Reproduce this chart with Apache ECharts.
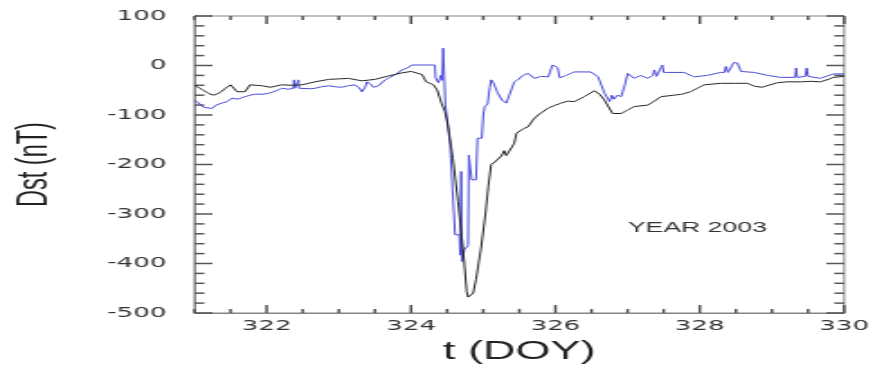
<!DOCTYPE html>
<html>
<head>
<meta charset="utf-8">
<script src="https://cdn.jsdelivr.net/npm/echarts@6/dist/echarts.min.js"></script>
<style>
  html, body { margin: 0; padding: 0; background: #fff; overflow: hidden; }
  /* the source figure is stretched sideways, so the chart is drawn narrow and widened */
  #chart { width: 486px; height: 370px; transform: scaleX(1.8004); transform-origin: 0 0; }
</style>
</head>
<body>
<div id="chart"></div>
<script>
// observed Dst (black)
const doyObs = [
  321.00, 321.10, 321.20, 321.27, 321.35, 321.43, 321.50, 321.59, 321.70, 321.77,
  321.85, 321.94, 322.05, 322.21, 322.35, 322.49, 322.67, 322.86, 323.00, 323.13,
  323.32, 323.50, 323.69, 323.87, 324.00, 324.15, 324.21, 324.31, 324.36, 324.42,
  324.47, 324.51, 324.58, 324.65, 324.72, 324.77, 324.79, 324.86, 324.90, 324.97,
  325.03, 325.07, 325.11, 325.16, 325.25, 325.29, 325.32, 325.36, 325.43, 325.46,
  325.55, 325.62, 325.70, 325.76, 325.90, 326.00, 326.08, 326.17, 326.26, 326.40,
  326.54, 326.61, 326.68, 326.79, 326.91, 327.00, 327.09, 327.28, 327.37, 327.46,
  327.64, 327.75, 327.87, 328.06, 328.29, 328.50, 328.66, 328.76, 328.86, 329.07,
  329.20, 329.39, 329.55, 329.67, 329.78, 329.85, 330.00
]
const dstObs = [
  -40, -48, -57, -60, -55, -46, -39, -53, -53, -39,
  -40, -41, -44, -39, -40, -39, -33, -28, -27, -26,
  -31, -28, -21, -15, -12, -18, -33, -39, -49, -76,
  -93, -120, -188, -275, -369, -457, -468, -460, -432, -369,
  -300, -245, -200, -195, -183, -172, -182, -178, -157, -137,
  -128, -124, -108, -100, -86, -80, -76, -72, -73, -63,
  -51, -58, -70, -97, -97, -90, -83, -80, -72, -63,
  -60, -58, -53, -39, -36, -36, -36, -42, -44, -35,
  -33, -33, -32, -33, -28, -24, -22
]

// model Dst (blue)
const doyModel = [
  321.00, 321.05, 321.12, 321.24, 321.30, 321.38, 321.45, 321.52, 321.60, 321.70,
  321.77, 321.84, 321.95, 322.03, 322.12, 322.21, 322.30, 322.37, 322.38, 322.39,
  322.43, 322.44, 322.45, 322.49, 322.60, 322.67, 322.76, 322.86, 322.95, 323.04,
  323.13, 323.22, 323.28, 323.32, 323.36, 323.39, 323.44, 323.48, 323.55, 323.64,
  323.71, 323.78, 323.87, 323.95, 324.01, 324.33, 324.34, 324.38, 324.41, 324.43,
  324.445, 324.46, 324.475, 324.54, 324.60, 324.61, 324.67, 324.68, 324.695, 324.705,
  324.74, 324.79, 324.80, 324.83, 324.84, 324.90, 324.92, 324.98, 325.00, 325.02,
  325.06, 325.09, 325.11, 325.14, 325.20, 325.26, 325.32, 325.36, 325.43, 325.48,
  325.55, 325.62, 325.71, 325.80, 325.90, 325.96, 326.03, 326.06, 326.08, 326.15,
  326.26, 326.49, 326.59, 326.68, 326.75, 326.78, 326.81, 326.86, 326.91, 326.96,
  327.00, 327.09, 327.18, 327.28, 327.35, 327.37, 327.40, 327.44, 327.48, 327.50,
  327.55, 327.78, 327.92, 328.10, 328.29, 328.34, 328.36, 328.39, 328.43, 328.47,
  328.52, 328.57, 328.75, 328.94, 329.12, 329.32, 329.335, 329.35, 329.46, 329.48,
  329.50, 329.67, 329.85, 330.00
]
const dstModel = [
  -70, -75, -84, -87, -80, -76, -73, -66, -68, -63,
  -60, -58, -58, -56, -52, -46, -48, -46, -29, -46,
  -46, -29, -46, -44, -47, -46, -43, -41, -43, -44,
  -41, -39, -45, -53, -45, -33, -38, -44, -41, -29,
  -24, -19, -9, -5, 1, 1, -25, -35, -20, -30,
  35, -20, -78, -160, -316, -342, -342, -383, -214, -396,
  -371, -364, -181, -181, -231, -231, -147, -147, -100, -83,
  -78, -45, -29, -35, -55, -70, -76, -60, -33, -29,
  -20, -16, -26, -22, -23, 1, -4, -25, -29, -20,
  -13, -13, -23, -56, -73, -60, -68, -60, -63, -40,
  -16, -26, -20, -26, -20, -9, -22, -20, 1, -14,
  -14, -14, -23, -20, -14, -14, -2, -14, -10, 6,
  5, -12, -14, -20, -24, -24, -5, -24, -22, -5,
  -22, -26, -17, -17
]

// axis ticks: labelled every 2 days / 100 nT, small ticks every 0.5 day / 20 nT
const xMajor = [322, 324, 326, 328, 330]
const xTicks = []
for (let v = 321; v <= 330; v += 0.5) xTicks.push(v)
const yTicks = []
for (let v = -500; v <= 100; v += 20) yTicks.push(v)

const frame = '#858585'
const tickColor = '#555'
const labelFont = { fontFamily: 'DejaVu Sans', fontSize: 14.5, color: '#333' }

function pairs(xs, ys) {
  return xs.map((x, i) => [x, ys[i]])
}

// ticks pointing into the frame on all four sides
function renderTicks(params, api) {
  const cs = params.coordSys
  const top = cs.y
  const bottom = cs.y + cs.height
  const left = cs.x
  const right = cs.x + cs.width
  const lines = []
  const add = (x1, y1, x2, y2) =>
    lines.push({
      type: 'line',
      shape: { x1, y1, x2, y2 },
      style: { stroke: tickColor, lineWidth: 1.5 },
    })
  xTicks.forEach((v) => {
    const x = api.coord([v, 0])[0]
    const len = xMajor.includes(v) ? 8 : 4
    add(x, bottom, x, bottom - len)
    add(x, top, x, top + len)
  })
  yTicks.forEach((v) => {
    const y = api.coord([321, v])[1]
    const len = v % 100 === 0 ? 10 : 5.5
    add(left, y, left + len, y)
    add(right, y, right - len, y)
  })
  return { type: 'group', children: lines }
}

const chart = echarts.init(document.getElementById('chart'))

chart.setOption({
  animation: false,
  title: {
    text: 'YEAR 2003',
    left: 348.7,
    top: 220.5,
    padding: 0,
    textStyle: { fontFamily: 'Liberation Sans', fontSize: 14.8, fontWeight: 'normal', color: '#333' },
  },
  grid: {
    left: 106.8,
    right: 17.1,
    top: 16,
    bottom: 57,
    show: true,
    borderColor: frame,
    borderWidth: 1,
    backgroundColor: 'transparent',
  },
  xAxis: {
    type: 'value',
    min: 321,
    max: 330,
    axisLine: { show: true, onZero: false, lineStyle: { color: frame, width: 1 } },
    axisTick: { show: false },
    axisLabel: Object.assign({ customValues: xMajor, margin: 6 }, labelFont),
    splitLine: { show: false },
    name: 't (DOY)',
    nameLocation: 'middle',
    nameGap: 27,
    nameTextStyle: { fontFamily: 'Liberation Sans', fontSize: 25, color: '#222' },
  },
  yAxis: {
    type: 'value',
    min: -500,
    max: 100,
    interval: 100,
    axisLine: { show: true, onZero: false, lineStyle: { color: frame, width: 1 } },
    axisTick: { show: false },
    axisLabel: Object.assign({ margin: 15.5 }, labelFont),
    splitLine: { show: false },
    name: 'Dst (nT)',
    nameLocation: 'middle',
    nameRotate: 90,
    nameGap: 76,
    nameTextStyle: { fontFamily: 'Liberation Sans', fontSize: 23.5, color: '#222' },
  },
  series: [
    {
      name: 'ticks',
      type: 'custom',
      renderItem: renderTicks,
      data: [[321, 0]],
      silent: true,
      clip: false,
    },
    {
      name: 'model',
      type: 'line',
      data: pairs(doyModel, dstModel),
      showSymbol: false,
      lineStyle: { color: '#4b4bd9', width: 1 },
    },
    {
      name: 'observed',
      type: 'line',
      data: pairs(doyObs, dstObs),
      showSymbol: false,
      lineStyle: { color: '#262626', width: 1 },
    },
  ],
})
</script>
</body>
</html>
